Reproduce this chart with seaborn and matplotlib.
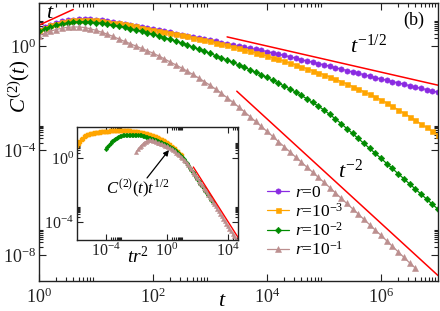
import numpy as np
import pandas as pd
import matplotlib
matplotlib.use("Agg")
import matplotlib.pyplot as plt
import seaborn as sns
from matplotlib.ticker import FixedLocator, FixedFormatter, NullFormatter

# ---------------- data ----------------
# sample times: t = 10**log_t, ten points per decade
log_t = np.round(np.arange(0, 71) * 0.1, 1)

# log10 C^(2)(t) for every series
logC_r0 = [0.62, 0.72, 0.81, 0.88, 0.94, 0.98, 1.01, 1.03, 1.03, 1.02,
           1.00, 0.98, 0.95, 0.92, 0.89, 0.85, 0.81, 0.77, 0.73, 0.69,
           0.65, 0.61, 0.57, 0.53, 0.48, 0.44, 0.40, 0.35, 0.31, 0.26,
           0.22, 0.18, 0.13, 0.09, 0.04, 0.00, -0.04, -0.09, -0.13, -0.17,
           -0.21, -0.26, -0.31, -0.36, -0.41, -0.46, -0.52, -0.57, -0.62, -0.67,
           -0.72, -0.77, -0.83, -0.88, -0.94, -0.99, -1.04, -1.10, -1.15, -1.21,
           -1.26, -1.31, -1.36, -1.41, -1.46, -1.52, -1.57, -1.62, -1.67, -1.72,
           -1.77]
logC_r1e3 = [0.60, 0.70, 0.79, 0.86, 0.92, 0.96, 0.99, 1.01, 1.01, 1.00,
             0.98, 0.96, 0.93, 0.90, 0.87, 0.83, 0.79, 0.75, 0.71, 0.67,
             0.63, 0.59, 0.55, 0.51, 0.46, 0.42, 0.37, 0.32, 0.28, 0.23,
             0.18, 0.13, 0.08, 0.03, -0.03, -0.08, -0.14, -0.20, -0.26, -0.32,
             -0.38, -0.45, -0.51, -0.58, -0.65, -0.72, -0.79, -0.87, -0.94, -1.02,
             -1.10, -1.18, -1.27, -1.36, -1.45, -1.55, -1.65, -1.75, -1.85, -1.95,
             -2.06, -2.18, -2.31, -2.44, -2.57, -2.70, -2.84, -2.98, -3.12, -3.26,
             -3.40]
logC_r1e2 = [0.56, 0.65, 0.73, 0.80, 0.85, 0.89, 0.92, 0.93, 0.93, 0.92,
             0.90, 0.87, 0.84, 0.80, 0.76, 0.72, 0.67, 0.62, 0.56, 0.51,
             0.45, 0.39, 0.32, 0.26, 0.19, 0.12, 0.04, -0.04, -0.12, -0.20,
             -0.28, -0.37, -0.45, -0.54, -0.63, -0.72, -0.81, -0.91, -1.00, -1.10,
             -1.20, -1.31, -1.42, -1.53, -1.64, -1.76, -1.89, -2.02, -2.16, -2.30,
             -2.45, -2.62, -2.79, -2.97, -3.16, -3.35, -3.54, -3.73, -3.92, -4.11,
             -4.30, -4.50, -4.69, -4.89, -5.08, -5.28, -5.47, -5.67, -5.86, -6.06,
             -6.25]
logC_r1e1 = [0.40, 0.49, 0.57, 0.63, 0.68, 0.72, 0.73, 0.73, 0.71, 0.66,
             0.60, 0.53, 0.45, 0.37, 0.27, 0.18, 0.09, 0.00, -0.09, -0.18,
             -0.27, -0.38, -0.49, -0.61, -0.72, -0.84, -0.96, -1.09, -1.22, -1.36,
             -1.50, -1.65, -1.81, -1.98, -2.15, -2.33, -2.51, -2.70, -2.89, -3.08,
             -3.27, -3.46, -3.66, -3.85, -4.05, -4.25, -4.44, -4.64, -4.83, -5.03,
             -5.22, -5.42, -5.62, -5.83, -6.03, -6.23, -6.43, -6.64, -6.84, -7.05,
             -7.25, -7.46, -7.67, -7.88, -8.09, -8.30, -8.50]

rates = [0.0, 1e-3, 1e-2, 1e-1]
series_logC = [logC_r0, logC_r1e3, logC_r1e2, logC_r1e1]
labels = ["$r$=0", "$r$=10$^{-3}$", "$r$=10$^{-2}$", "$r$=10$^{-1}$"]

# reference power-law guide segments (endpoints)
guide_lin_t = [1.0, 10 ** 0.6]
guide_lin_c = [10 ** 0.8, 10 ** 1.4]
guide_half_t = [10 ** 3.3, 1e7]
guide_half_c = [10 ** 0.35, 10 ** -1.5]
guide_m2_t = [10 ** 3.47, 1e7]
guide_m2_c = [10 ** -1.73, 10 ** -8.79]
inset_guide_x = [10 ** 1.73, 10 ** 4.73]
inset_guide_y = [10 ** -0.56, 10 ** -5.06]

main_xticks = [1e0, 1e2, 1e4, 1e6]
main_xticklabels = ["$10^{0}$", "$10^{2}$", "$10^{4}$", "$10^{6}$"]
main_yticks = [1e-8, 1e-4, 1e0]
main_yticklabels = ["$10^{-8}$", "$10^{-4}$", "$10^{0}$"]
inset_xticks = [1e-4, 1e0, 1e4]
inset_xticklabels = ["$10^{-4}$", "$10^{0}$", "$10^{4}$"]
inset_yticks = [1e-4, 1e0]
inset_yticklabels = ["$10^{-4}$", "$10^{0}$"]

# ---------------- style ----------------
colors = ["#8A2BE2", "#FFA500", "#008B00", "#BC8F8F"]
markers = ["o", "s", "D", "^"]
msizes = [3.8, 3.6, 3.3, 4.3]

sns.set_theme(style="ticks")
plt.rcParams.update({
    "font.family": ["Liberation Serif", "DejaVu Serif"],
    "mathtext.fontset": "custom",
    "mathtext.rm": "Liberation Serif",
    "mathtext.it": "Liberation Serif:italic",
    "mathtext.bf": "Liberation Serif:bold",
    "axes.linewidth": 1.0,
    "axes.edgecolor": "#222222",
    "xtick.color": "#222222",
    "ytick.color": "#222222",
    "text.color": "black",
    "axes.labelcolor": "black",
})

fig = plt.figure(figsize=(4.4, 3.11), dpi=100)
ax = fig.add_axes([39 / 440, 30 / 311, 399 / 440, 278.3 / 311])


def minor_positions(majors):
    out = []
    for m in majors:
        out.extend([m * k for k in range(2, 10)])
    return out


def style_log_axis(a, xt, xl, yt, yl, fs, majlen, minlen):
    a.set_xscale("log")
    a.set_yscale("log")
    a.xaxis.set_major_locator(FixedLocator(xt))
    a.xaxis.set_major_formatter(FixedFormatter(xl))
    a.xaxis.set_minor_locator(FixedLocator(minor_positions(xt)))
    a.xaxis.set_minor_formatter(NullFormatter())
    a.yaxis.set_major_locator(FixedLocator(yt))
    a.yaxis.set_major_formatter(FixedFormatter(yl))
    a.yaxis.set_minor_locator(FixedLocator(minor_positions(yt)))
    a.yaxis.set_minor_formatter(NullFormatter())
    a.tick_params(which="both", direction="in", top=True, right=True,
                  labelsize=fs, width=0.8)
    a.tick_params(which="major", length=majlen)
    a.tick_params(which="minor", length=minlen)


handles = []
for rate, vals, lab, col, mk, ms in zip(rates, series_logC, labels, colors, markers, msizes):
    n = len(vals)
    df = pd.DataFrame({"t": 10 ** log_t[:n], "C": 10 ** np.array(vals)})
    sns.lineplot(data=df, x="t", y="C", ax=ax, color=col, marker=mk,
                 markersize=ms, markeredgecolor=col, markeredgewidth=0.4,
                 linewidth=0.9, estimator=None, errorbar=None, sort=False)
    handles.append(ax.lines[-1])
    ax.lines[-1].set_label(lab)

for gx, gy in [(guide_lin_t, guide_lin_c), (guide_half_t, guide_half_c), (guide_m2_t, guide_m2_c)]:
    ax.plot(gx, gy, color="red", linewidth=1.1)

style_log_axis(ax, main_xticks, main_xticklabels, main_yticks, main_yticklabels, 13, 5, 3)
ax.set_xlim(1, 1e7)
ax.set_ylim(1e-9, 10 ** 1.66)
ax.tick_params(axis="x", which="major", pad=5)
ax.tick_params(axis="y", which="major", pad=2)

ax.set_xlabel("$t$", fontsize=16)
ax.xaxis.set_label_coords(0.459, -0.075)
ax.xaxis.label.set_verticalalignment("center")
ax.set_ylabel("$C^{(2)}(t)$", fontsize=15)
ax.yaxis.set_label_coords(-0.05, 0.70)
ax.yaxis.label.set_verticalalignment("center")

ax.text(0.0276, 0.962, "$t$", transform=ax.transAxes, fontsize=16, ha="center", va="center")
ax.text(0.7794, 0.820, "$t^{-1/2}$", transform=ax.transAxes, fontsize=16, ha="left", va="baseline")
ax.text(0.749, 0.3705, "$t^{-2}$", transform=ax.transAxes, fontsize=16, ha="left", va="baseline")
ax.text(0.94, 0.935, "(b)", transform=ax.transAxes, fontsize=13, ha="center", va="center")

ax.legend(handles=handles, loc="upper left", bbox_to_anchor=(0.571, 0.345),
          frameon=False, fontsize=12.5, handlelength=1.3, handletextpad=0.3,
          labelspacing=0.08, borderpad=0, borderaxespad=0, numpoints=1)

# ---------------- inset: C t^{1/2} versus t r^2 ----------------
axin = fig.add_axes([77 / 440, 71 / 311, 161 / 440, 113 / 311])
for rate, vals, col, mk, ms in zip(rates[1:], series_logC[1:], colors[1:], markers[1:], msizes[1:]):
    n = len(vals)
    t = 10 ** log_t[:n]
    C = 10 ** np.array(vals)
    dfi = pd.DataFrame({"x": t * rate ** 2, "y": C * np.sqrt(t)})
    sns.lineplot(data=dfi, x="x", y="y", ax=axin, color=col, marker=mk,
                 markersize=ms * 0.7, markeredgecolor=col, markeredgewidth=0.3,
                 linewidth=0.8, estimator=None, errorbar=None, sort=False)
axin.plot(inset_guide_x, inset_guide_y, color="red", linewidth=1.0)

style_log_axis(axin, inset_xticks, inset_xticklabels, inset_yticks, inset_yticklabels, 11.5, 4, 2.5)
axin.set_xlim(10 ** -5.9, 10 ** 4.66)
axin.set_ylim(10 ** -5.12, 10 ** 1.94)
axin.set_xlabel("")
axin.set_ylabel("")
axin.tick_params(axis="both", which="major", pad=2)
axin.text(0.379, -0.15, "$tr^2$", transform=axin.transAxes, fontsize=14, ha="center", va="center")
axin.text(0.379, 0.451, "$C^{(2)}(t)t^{1/2}$", transform=axin.transAxes, fontsize=12,
          ha="center", va="center")
axin.annotate("", xy=(0.571, 0.796), xytext=(0.435, 0.549), xycoords="axes fraction",
              textcoords="axes fraction",
              arrowprops=dict(arrowstyle="-|>", color="black", lw=0.9, mutation_scale=8,
                              shrinkA=0, shrinkB=0))

fig.savefig("out.png", dpi=100)
